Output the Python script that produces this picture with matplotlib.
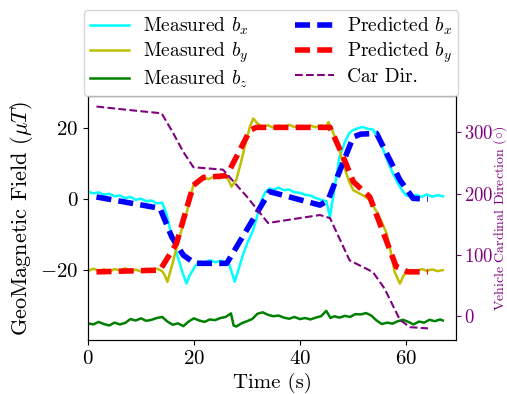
import matplotlib
matplotlib.use("Agg")
import matplotlib.pyplot as plt

plt.rcParams["font.family"] = "serif"
plt.rcParams["font.serif"] = ["cmr10"]
plt.rcParams["mathtext.fontset"] = "cm"
plt.rcParams["axes.formatter.use_mathtext"] = True

# measured b_x
t_bx = [0, 1, 2, 3, 4, 5, 6, 7, 8, 9, 10, 11, 12, 13, 14, 14.8, 15.5, 16.2, 17, 17.8,
        18.6, 19.2, 20.2, 21, 22, 23, 24, 25, 26, 26.7, 27.7, 28.5, 29.3, 30.2, 31.2,
        32, 32.7, 33.5, 34.3, 35, 36, 37, 38, 39, 40, 41, 42, 43, 44, 45, 45.7, 46.5,
        47.5, 48.5, 49.3, 50, 51, 51.9, 52.8, 53.8, 54.7, 55.6, 56.5, 57.6, 58.5, 59.3,
        60.1, 61, 62, 63, 64, 65, 66, 67]
m_bx = [2.1, 1.6, 1.9, 1.2, 1.5, 0.8, 1.0, 0.3, 0.6, -0.2, 0.1, -0.6, -0.4, -1.2, -1.0,
        -4.0, -8.5, -12.5, -16.5, -20.5, -23.8, -21.5, -19.0, -17.6, -17.9, -17.2, -17.8,
        -17.4, -17.9, -18.5, -23.3, -19.5, -15.5, -12.0, -8.7, -4.5, -0.5, 2.0, 3.0, 2.6,
        3.2, 2.5, 2.7, 1.9, 1.8, 1.2, 1.0, 0.3, -0.2, -0.6, -5.0, 2.5, 11.9, 16.0, 18.5,
        19.4, 20.0, 20.3, 19.8, 19.6, 17.5, 14.5, 11.0, 7.2, 4.5, 2.5, 1.0, 0.8, 1.2, 0.6,
        1.3, 0.7, 1.1, 0.8]

# measured b_y
t_by = [0, 1, 2, 3, 4, 5, 6, 7, 8, 9, 10, 11, 12, 13, 14, 14.5, 15, 15.8, 16.7, 17.6,
        18.6, 19.3, 19.9, 20.8, 21.8, 22.8, 23.8, 24.8, 25.8, 26.5, 27.1, 28, 29, 29.9,
        30.6, 31.2, 32, 33, 34, 35, 36, 37, 38, 39, 40, 41, 42, 43, 44, 45, 45.4, 46.5,
        47.5, 48.5, 49.3, 50.1, 51, 52, 53.2, 54.5, 55.5, 56.4, 57.2, 57.9, 58.9, 59.6,
        60.4, 61, 62, 63, 64, 65, 66, 67]
m_by = [-20.3, -19.6, -20.2, -19.8, -20.5, -19.7, -20.1, -19.5, -20.3, -19.9, -20.4,
        -19.7, -20.2, -19.6, -20.3, -21.5, -23.3, -19.0, -13.9, -9.0, -4.0, 0.5, 3.9,
        5.5, 6.1, 5.6, 6.4, 5.8, 6.6, 5.5, 3.5, 5.4, 11.0, 16.6, 20.5, 22.7, 21.3, 20.3,
        20.8, 20.1, 20.7, 20.2, 20.9, 20.3, 20.6, 19.9, 20.7, 20.2, 20.8, 20.4, 21.7,
        18.0, 13.8, 8.5, 5.0, 2.5, 1.8, 1.0, -0.3, -3.5, -6.5, -9.7, -15.0, -20.5, -23.8,
        -21.5, -20.5, -20.0, -20.4, -19.7, -20.2, -19.8, -20.3, -20.0]

# measured b_z
t_bz = [0, 1, 2, 3, 4, 5, 6, 7, 8, 9, 10, 11, 12, 13, 14, 15, 16, 17, 18, 19, 20, 21,
        22, 23, 24, 25, 26, 27, 27.5, 28, 29, 30, 31, 32, 33, 34, 35, 36, 37, 38, 39, 40,
        41, 42, 43, 44, 45, 45.8, 46.5, 47.5, 48.5, 49.5, 50.5, 51.5, 52.5, 53.5, 54.5,
        55.5, 56.5, 57.5, 58.5, 59.5, 60.5, 61.5, 62.5, 63.5, 64.5, 65.5, 66.5, 67]
m_bz = [-35.0, -35.3, -34.6, -35.2, -35.6, -34.8, -35.3, -34.9, -33.8, -34.2, -33.6,
        -34.3, -34.0, -33.5, -33.2, -34.5, -35.4, -35.0, -35.8, -34.5, -33.6, -34.2,
        -34.6, -33.9, -34.1, -33.5, -33.2, -32.2, -35.6, -35.9, -35.0, -34.4, -33.8,
        -32.3, -31.9, -32.6, -33.0, -32.8, -33.4, -33.7, -33.2, -33.8, -33.5, -33.9,
        -33.4, -33.0, -31.5, -33.5, -33.0, -33.4, -32.9, -33.2, -32.4, -32.5, -32.1,
        -32.8, -34.2, -35.2, -34.8, -35.1, -34.4, -34.0, -34.6, -35.3, -34.5, -34.8,
        -34.0, -34.4, -33.9, -34.2]

# predicted b_x, b_y
t_pbx = [1.6, 13.6, 15.8, 18, 20.2, 26.2, 34.3, 43.8, 45.3, 50.1, 51.5, 54.5, 58.9, 61.4, 64.2]
p_bx = [0.6, -2.6, -10.6, -15.8, -18.1, -18.1, 2.1, -1.7, -0.4, 17.5, 18.3, 18.5, 5.4, 0.2, 0.0]
t_pby = [1.6, 13.6, 16.7, 19.9, 21.8, 26.2, 30.6, 31.8, 45.7, 48.2, 50.1, 53.2, 58.2, 60.4, 64.2]
p_by = [-20.5, -20.0, -12.5, 3.9, 6.1, 6.6, 19.4, 20.2, 20.2, 11.9, 4.9, 0.65, -19.0, -20.5, -20.5]

# car direction (degrees)
t_dir = [1.6, 7, 13.9, 16, 18, 19.9, 25.5, 30, 34.0, 43.8, 45.7, 49.4, 53.8, 56, 58.9, 60.8, 64.2]
car_dir = [342, 337, 331, 300, 268, 243, 239, 195, 152, 165, 160, 91, 72, 45, -6, -18, -20]

fig = plt.figure(figsize=(5.07, 3.94), dpi=100)
ax = fig.add_axes([0.1736, 0.137, 0.7258, 0.619])
ax.plot(t_bx, m_bx, color="cyan", lw=1.8, label="Measured $b_x$")
ax.plot(t_by, m_by, color="y", lw=1.8, label="Measured $b_y$")
ax.plot(t_bz, m_bz, color="g", lw=1.8, label="Measured $b_z$")
ax.plot(t_pbx, p_bx, color="b", lw=4, dashes=(2.7, 1.3), label="Predicted $b_x$")
ax.plot(t_pby, p_by, color="r", lw=4, dashes=(2.7, 1.3), label="Predicted $b_y$")
ax.set_xlim(0, 69.5)
ax.set_ylim(-39.7, 29)
ax.set_xticks([0, 20, 40, 60])
ax.set_yticks([-20, 0, 20])
ax.set_xlabel("Time (s)", fontsize=15)
ax.set_ylabel("GeoMagnetic Field ($\\mu T$)", fontsize=16)
ax.tick_params(labelsize=15)

ax2 = ax.twinx()
ax2.plot(t_dir, car_dir, color="purple", lw=1.5, ls="--", label="Car Dir.")
ax2.set_ylim(-39, 359)
ax2.set_yticks([0, 100, 200, 300])
ax2.tick_params(colors="purple", labelsize=13.5, pad=2)
ax2.set_ylabel("Vehicle Cardinal Direction ($\\circ$)", color="purple", fontsize=10)
ax2.yaxis.set_label_coords(1.095, 0.5)

h1, l1 = ax.get_legend_handles_labels()
h2, l2 = ax2.get_legend_handles_labels()
fig.legend(h1 + h2, l1 + l2, loc="upper center", bbox_to_anchor=(0.535, 1.0),
           ncol=2, fontsize=14, handlelength=2.0, handletextpad=0.7,
           columnspacing=2.4, labelspacing=0.18, borderpad=0.3)

fig.savefig("out.png", dpi=100)
